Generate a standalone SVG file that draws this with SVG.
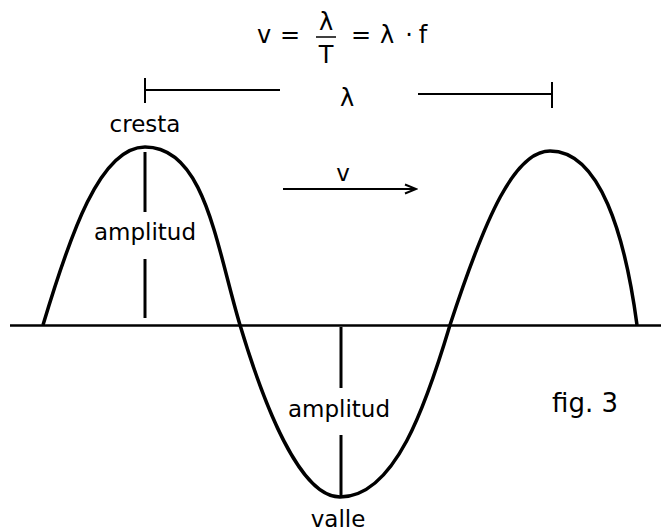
<svg xmlns="http://www.w3.org/2000/svg" width="661" height="531" viewBox="0 0 661 531">
<defs>
<style>
text{font-family:"DejaVu Sans","Verdana",sans-serif;font-size:23px;fill:#000}
.c{text-anchor:middle}
.f{font-size:24px}
.ln{stroke:#000;fill:none}
</style>
<marker id="ah" markerWidth="14" markerHeight="12" refX="12" refY="6" orient="auto" markerUnits="userSpaceOnUse">
<polyline points="1,1.5 12,6 1,10.5" fill="none" stroke="#000" stroke-width="2"/>
</marker>
</defs>
<rect width="661" height="531" fill="#fff"/>
<g id="formula">
<text x="264" y="43" class="c f">v</text>
<text x="290" y="43" class="c f">=</text>
<text x="326" y="30" class="c f">λ</text>
<line x1="316" y1="37" x2="336" y2="37" class="ln" stroke-width="1.5"/>
<text x="326" y="63" class="c f">T</text>
<text x="361" y="43" class="c f">=</text>
<text x="387" y="43" class="c f">λ</text>
<text x="409" y="43" class="c f">·</text>
<text x="423" y="43" class="c f">f</text>
</g>
<g id="wavelength">
<line x1="145" y1="78" x2="145" y2="103" class="ln" stroke-width="2"/>
<line x1="145" y1="90" x2="280" y2="90" class="ln" stroke-width="2"/>
<text x="347" y="106" class="c f">λ</text>
<line x1="418" y1="94" x2="552" y2="94" class="ln" stroke-width="2"/>
<line x1="552" y1="82" x2="552" y2="108" class="ln" stroke-width="2"/>
</g>
<g id="axis">
<line x1="10" y1="325.5" x2="661" y2="325.5" class="ln" stroke-width="2.5"/>
</g>
<g id="wave">
<path class="ln" stroke-width="3.5" stroke-linejoin="round" d="M43,325 C70,235 100,147 145,147 C205,147 216,245 240,325 C264,405 300,497 340,497 C395,497 426,405 450,325 C486,215 515,151 550,151 C600,151 625,235 637,325"/>
</g>
<g id="crest">
<text x="145" y="132" class="c">cresta</text>
<line x1="145" y1="152" x2="145" y2="212" class="ln" stroke-width="3"/>
<text x="145" y="240" class="c">amplitud</text>
<line x1="145" y1="259" x2="145" y2="318" class="ln" stroke-width="3"/>
</g>
<g id="trough">
<line x1="341" y1="327" x2="341" y2="388" class="ln" stroke-width="3"/>
<text x="339" y="417" class="c">amplitud</text>
<line x1="341" y1="435" x2="341" y2="497" class="ln" stroke-width="3"/>
<text x="338" y="527" class="c">valle</text>
</g>
<g id="velocity">
<text x="343" y="181" class="c">v</text>
<line x1="283" y1="189" x2="416" y2="189" class="ln" stroke-width="2" marker-end="url(#ah)"/>
</g>
<g id="label">
<text x="552" y="412" style="font-size:26px">fig. 3</text>
</g>
</svg>
